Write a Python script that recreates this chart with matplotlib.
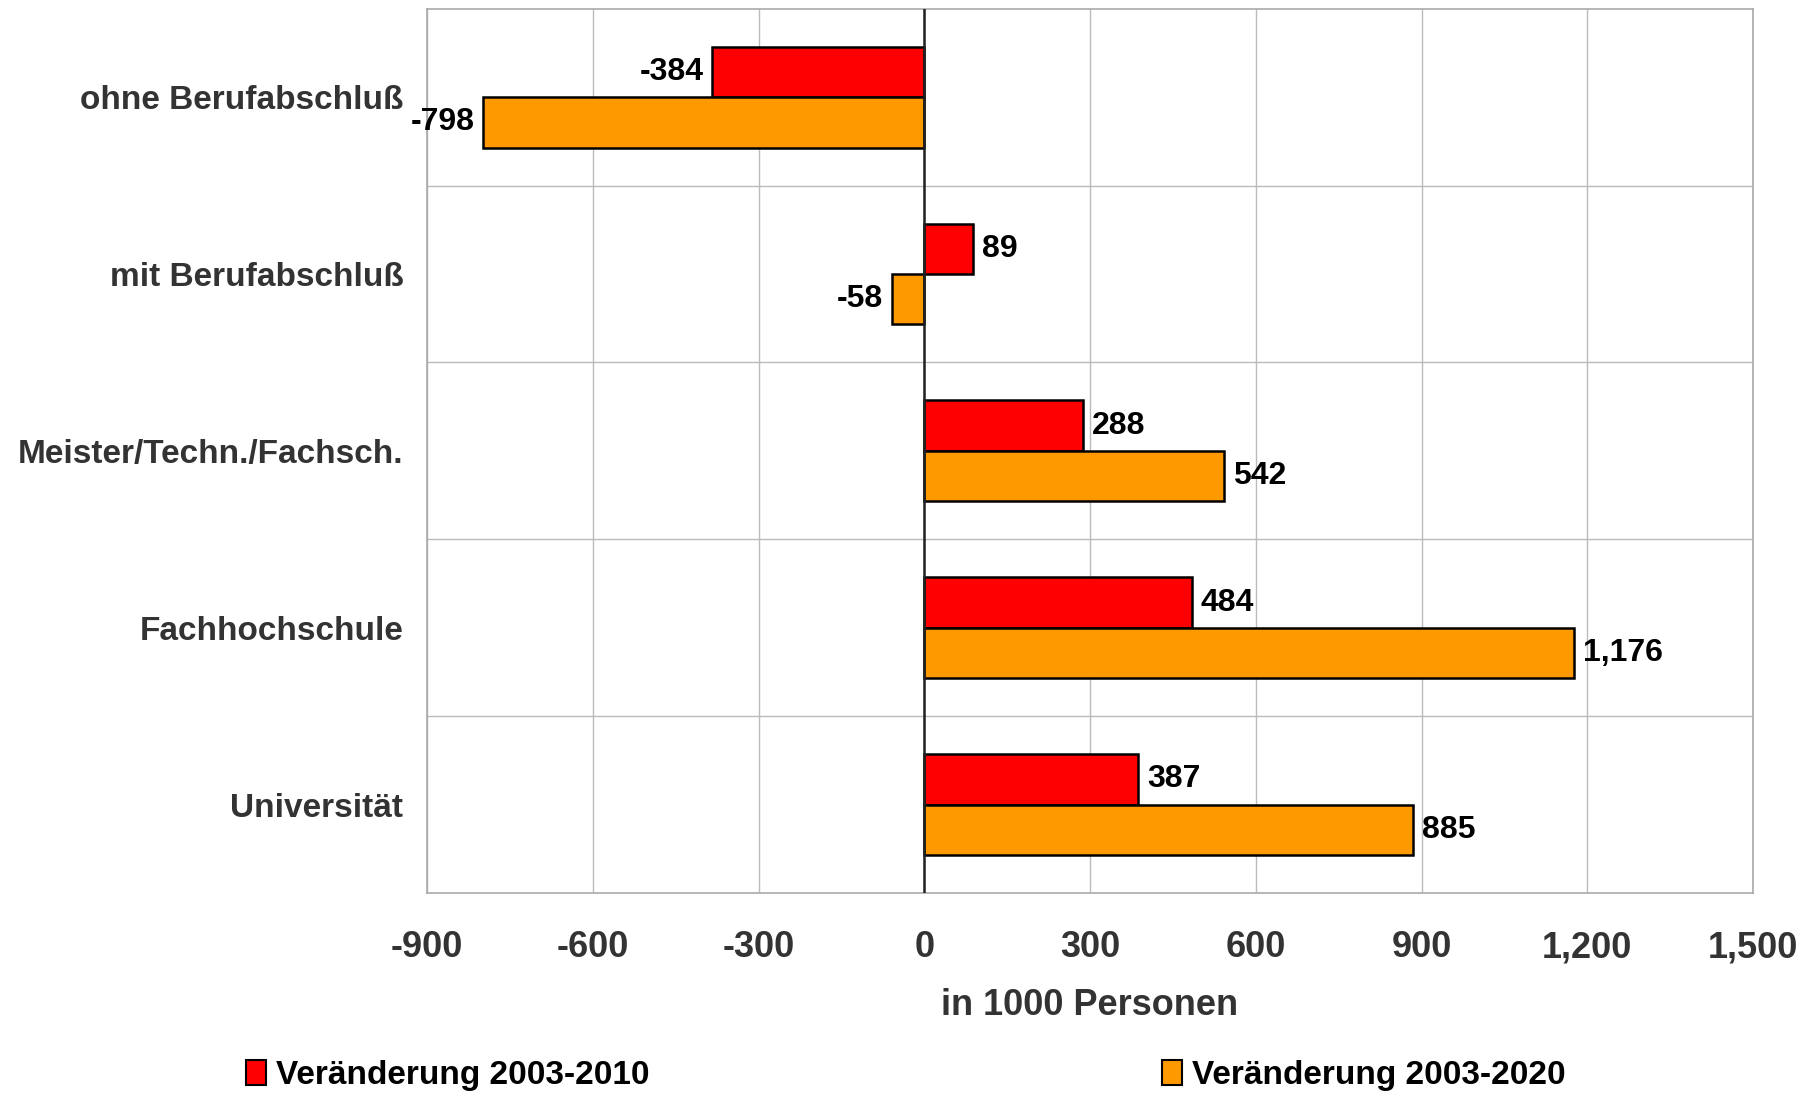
import numpy as np
import matplotlib.pyplot as plt
from matplotlib.patches import Patch

plt.rcParams['font.family'] = ['Liberation Sans', 'DejaVu Sans']

categories = ["ohne Berufabschluß", "mit Berufabschluß", "Meister/Techn./Fachsch.",
              "Fachhochschule", "Universität"]
change_2010 = [-384, 89, 288, 484, 387]
change_2020 = [-798, -58, 542, 1176, 885]
series_names = ["Veränderung 2003-2010", "Veränderung 2003-2020"]
xticks = [-900, -600, -300, 0, 300, 600, 900, 1200, 1500]

red = "#ff0000"
orange = "#ff9900"
grey_txt = "#333333"

fig = plt.figure(figsize=(18.14, 10.93), dpi=100)
ax = fig.add_axes([0.2354, 0.183, 0.731, 0.809])

y = np.arange(len(categories))
h = 0.285
ax.barh(y - h / 2, change_2010, height=h, color=red, edgecolor="black", linewidth=1.8, zorder=3)
ax.barh(y + h / 2, change_2020, height=h, color=orange, edgecolor="black", linewidth=1.8, zorder=3)

def fmt(v):
    return f"{v:,}"

for yy, vals in ((y - h / 2, change_2010), (y + h / 2, change_2020)):
    for yi, v in zip(yy, vals):
        off = 16 if v >= 0 else -16
        ax.text(v + off, yi, fmt(v), ha="left" if v >= 0 else "right", va="center",
                fontsize=23, fontweight="bold", color="black", zorder=4)

ax.set_xlim(-900, 1500)
ax.set_ylim(len(categories) - 0.5, -0.5)
ax.set_xticks(xticks)
ax.set_xticklabels([fmt(t) for t in xticks], fontsize=26, fontweight="bold", color=grey_txt)
ax.set_yticks(y)
ax.set_yticklabels(categories, fontsize=24, fontweight="bold", color=grey_txt)
ax.tick_params(axis="both", length=0)
ax.tick_params(axis="x", pad=27)
ax.tick_params(axis="y", pad=17)

# grid: vertical at ticks, horizontal between categories
for t in xticks:
    ax.axvline(t, color="#bbbbbb", linewidth=1, zorder=1)
for b in np.arange(0.5, len(categories) - 0.5, 1):
    ax.axhline(b, color="#bbbbbb", linewidth=1, zorder=1)
ax.axvline(0, color="#222222", linewidth=1.8, zorder=5)
for s in ax.spines.values():
    s.set_color("#aaaaaa")
    s.set_linewidth(1.2)

ax.set_xlabel("in 1000 Personen", fontsize=26, fontweight="bold", color=grey_txt, labelpad=16)

legend_x = [0.128, 0.633]
for name, col, lx in zip(series_names, [red, orange], legend_x):
    fig.legend([Patch(facecolor=col, edgecolor="black", linewidth=1.5)], [name],
               loc="center left", bbox_to_anchor=(lx, 0.016), frameon=False,
               handlelength=0.6, handleheight=0.8, handletextpad=0.3, borderaxespad=0,
               prop={"weight": "bold", "size": 24})

fig.savefig("out.png", dpi=100)
